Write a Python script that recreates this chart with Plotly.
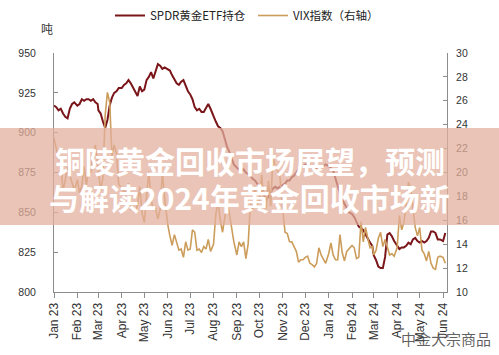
import numpy as np
import pandas as pd
import plotly.graph_objects as go

# ---- data (sampled every 3 days within each month) ----
months = ["2023-01", "2023-02", "2023-03", "2023-04", "2023-05", "2023-06",
          "2023-07", "2023-08", "2023-09", "2023-10", "2023-11", "2023-12",
          "2024-01", "2024-02", "2024-03", "2024-04", "2024-05", "2024-06"]

spdr_holdings = [
    917, 916, 914, 915, 912, 910, 909, 915, 918, 919,   # 2023-01
    917, 918, 921, 920, 921, 921, 920, 921, 919, 918,   # 2023-02
    914, 912, 907, 903, 908, 917, 922, 925, 926, 928,   # 2023-03
    928, 930, 931, 933, 931, 928, 925, 923, 929, 926,   # 2023-04
    927, 933, 935, 938, 934, 938, 943, 942, 940, 941,   # 2023-05
    940, 939, 936, 933, 931, 930, 932, 933, 929, 926,   # 2023-06
    924, 921, 916, 914, 915, 913, 913, 916, 918, 915,   # 2023-07
    910, 907, 904, 903, 901, 896, 891, 888, 884, 880,   # 2023-08
    878, 877, 876, 877, 875, 874, 873, 871, 870, 868,   # 2023-09
    866, 863, 860, 858, 860, 863, 865, 866, 865, 866,   # 2023-10
    867, 868, 870, 870, 872, 873, 875, 877, 878, 879,   # 2023-11
    880, 879, 880, 878, 877, 878, 879, 878, 879, 880,   # 2023-12
    879, 878, 876, 871, 866, 862, 858, 855, 852, 850,   # 2024-01
    849, 847, 844, 841, 840, 839, 836, 833, 831, 829,   # 2024-02
    823, 820, 816, 815, 815, 822, 836, 837, 835, 832,   # 2024-03
    829, 827, 828, 828, 829, 831, 830, 833, 834, 832,   # 2024-04
    831, 832, 831, 832, 834, 838, 838, 837, 833, 833,   # 2024-05
    832, 837,                                           # 2024-06
]

vix_index = [
    22.9, 22.0, 21.1, 21.0, 18.4, 19.4, 20.5, 19.8, 19.1, 18.5,   # 2023-01
    19.4, 18.3, 18.9, 20.5, 18.9, 20.2, 20.0, 21.7, 22.3, 20.7,   # 2023-02
    20.6, 18.5, 19.6, 24.8, 26.7, 25.9, 21.4, 22.3, 21.6, 19.0,   # 2023-03
    18.7, 18.4, 18.4, 19.1, 16.9, 17.0, 16.7, 17.3, 18.8, 16.6,   # 2023-04
    15.8, 17.8, 20.1, 17.7, 16.9, 17.0, 16.1, 16.9, 20.0, 17.9,   # 2023-05
    15.7, 14.7, 13.9, 14.8, 14.2, 13.5, 13.6, 12.9, 14.2, 13.5,   # 2023-06
    13.6, 15.2, 15.0, 13.5, 13.6, 13.3, 13.8, 13.6, 14.4, 13.4,   # 2023-07
    14.0, 16.5, 17.6, 16.0, 15.0, 16.5, 17.5, 16.6, 15.2, 14.2,   # 2023-08
    13.1, 14.2, 13.8, 14.2, 12.8, 14.0, 17.4, 16.9, 18.9, 17.3,   # 2023-09
    17.6, 19.8, 17.4, 17.0, 19.3, 17.2, 21.4, 20.4, 20.2, 19.8,   # 2023-10
    16.9, 15.0, 14.9, 14.2, 14.2, 13.8, 13.4, 12.5, 12.7, 12.7,   # 2023-11
    12.9, 13.0, 12.4, 12.3, 12.1, 12.4, 13.7, 13.1, 12.7, 12.4,   # 2023-12
    13.2, 14.1, 13.1, 12.7, 12.7, 14.8, 13.3, 12.6, 13.4, 13.6,   # 2024-01
    13.9, 13.7, 12.8, 12.9, 15.9, 14.2, 15.4, 14.5, 13.7, 13.8,   # 2024-02
    13.1, 13.5, 14.5, 15.0, 13.8, 14.4, 13.8, 13.1, 13.2, 13.0,   # 2024-03
    13.7, 16.4, 15.2, 15.8, 17.3, 19.2, 18.7, 16.9, 15.4, 14.7,   # 2024-04
    15.4, 13.5, 13.2, 12.6, 13.4, 12.4, 12.0, 11.9, 12.9, 13.0,   # 2024-05
    12.9, 12.4,                                                   # 2024-06
]

samples_per_month = [10] * 17 + [2]

dates = []
for m, n in zip(months, samples_per_month):
    start = pd.Timestamp(m + "-01")
    dates.extend(list(start + pd.to_timedelta(np.arange(n) * 3, unit="D")))

series_names = ["SPDR黄金ETF持仓", "VIX指数（右轴）"]
title_lines = ["铜陵黄金回收市场展望，预测", "与解读2024年黄金回收市场新"]

# ---- figure ----
W, H = 499, 355
ML, MR, MT, MB = 54, 52, 53, 63
PW, PH = W - ML - MR, H - MT - MB


def px_x(x):
    return (x - ML) / PW


def px_y(y):
    return (H - MB - y) / PH


FONT = "Liberation Sans, Arial, Noto Sans CJK SC, sans-serif"
CJK = "Noto Sans CJK SC"
AX = "#8c8c8c"

fig = go.Figure()
fig.add_trace(go.Scatter(x=dates, y=spdr_holdings, name=series_names[0], mode="lines",
                         line=dict(color="#7a1519", width=2), yaxis="y"))
fig.add_trace(go.Scatter(x=dates, y=vix_index, name=series_names[1], mode="lines",
                         line=dict(color="#cc9c5a", width=1.6), yaxis="y2"))

fig.update_layout(
    width=W, height=H,
    margin=dict(l=ML, r=MR, t=MT, b=MB, pad=0, autoexpand=False),
    paper_bgcolor="white", plot_bgcolor="white",
    font=dict(family=FONT, size=11, color="#333333"),
    showlegend=True,
    legend=dict(orientation="h", xref="container", yref="container",
                x=110 / W, y=1 - 1 / H, xanchor="left", yanchor="top",
                font=dict(family=CJK, size=11.5, color="#222222"),
                itemwidth=30, entrywidth=98, entrywidthmode="pixels",
                bgcolor="rgba(0,0,0,0)"),
    xaxis=dict(type="date", range=["2023-01-01", "2024-06-06 06:00"],
               tick0="2023-01-01", dtick="M1", tickformat="%b %y",
               tickangle=-90, ticks="outside", ticklen=5, tickcolor=AX,
               showline=True, linecolor=AX, linewidth=1,
               showgrid=False, zeroline=False,
               tickfont=dict(size=12, color="#333333")),
    yaxis=dict(range=[800, 950], dtick=25, tick0=800, ticks="inside", ticklen=4,
               tickcolor=AX, showline=True, linecolor=AX, linewidth=1,
               showgrid=False, zeroline=False, ticklabelstandoff=15,
               tickfont=dict(size=10.5, color="#333333")),
    yaxis2=dict(range=[10, 30], dtick=2, tick0=10, overlaying="y", side="right",
                ticks="inside", ticklen=4, tickcolor=AX, showline=True,
                linecolor=AX, linewidth=1, showgrid=False, zeroline=False,
                ticklabelstandoff=6,
                tickfont=dict(size=10.5, color="#333333")),
)

# translucent title band
fig.add_shape(type="rect", xref="paper", yref="paper",
              x0=px_x(0), x1=px_x(W), y0=px_y(225), y1=px_y(128),
              fillcolor="rgba(226,176,156,0.74)", line=dict(width=0), layer="above")

fig.add_annotation(xref="paper", yref="paper", x=px_x(250), y=px_y(160),
                   text="<b>" + title_lines[0] + "</b>", showarrow=False,
                   xanchor="center", yanchor="middle",
                   font=dict(family=CJK, size=30, color="white"))
fig.add_annotation(xref="paper", yref="paper", x=px_x(249), y=px_y(197),
                   text="<b>" + title_lines[1] + "</b>", showarrow=False,
                   xanchor="center", yanchor="middle",
                   font=dict(family=CJK, size=30, color="white"))

fig.add_annotation(xref="paper", yref="paper", x=px_x(47), y=px_y(28),
                   text="吨", showarrow=False, xanchor="center", yanchor="middle",
                   font=dict(family=CJK, size=12, color="#333333"))

fig.add_annotation(xref="paper", yref="paper", x=px_x(446), y=px_y(338),
                   text="中金大宗商品", showarrow=False, xanchor="center", yanchor="middle",
                   font=dict(family=CJK, size=15, color="rgba(70,70,70,0.85)"))

fig.write_html("out.html",
               config={"displayModeBar": False},
               post_script="document.body.style.margin='0';document.body.style.overflow='hidden';")
